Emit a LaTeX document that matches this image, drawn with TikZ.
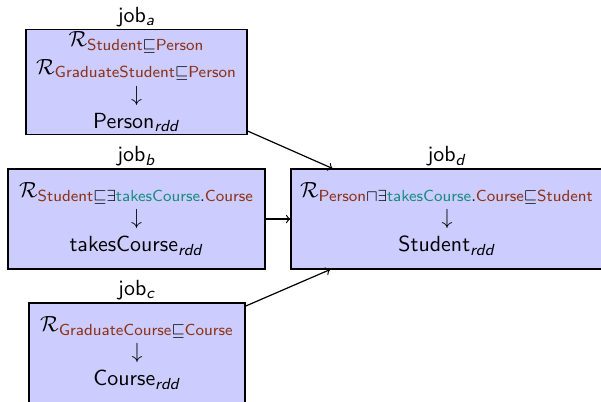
\documentclass[tikz,border=0pt,11pt]{standalone}
\usepackage{amsmath,amssymb}
\definecolor{conceptcol}{RGB}{140,50,25}
\definecolor{rolecol}{RGB}{25,140,125}
\newcommand{\cn}[1]{\textsf{\color{conceptcol}#1}}
\newcommand{\rn}[1]{\textsf{\color{rolecol}#1}}
\newcommand{\rdd}{\textsubscript{\textit{rdd}}}
\tikzset{
  jobbox/.style={draw, semithick, fill=blue!20, align=center, font=\sffamily, minimum height=1.757cm},
  joblabel/.style={font=\sffamily, inner sep=1pt}
}
\begin{document}
\begin{tikzpicture}
    \useasboundingbox (0,0) rectangle (10.561,-7.064);

    \node (joba) at (2.399,-1.441) [jobbox, minimum width=3.884cm, minimum height=1.828cm, inner ysep=1pt,
        label={[joblabel]above:job\textsubscript{\textit{a}}}]
        {$\mathcal{R}_{\cn{Student}\sqsubseteq\cn{Person}}$\\
         $\mathcal{R}_{\cn{GraduateStudent}\sqsubseteq\cn{Person}}$\\
         $\downarrow$\\ Person\rdd};
    \node (jobb) at (2.399,-3.849) [jobbox, minimum width=4.516cm,
        label={[joblabel]above:job\textsubscript{\textit{b}}}]
        {$\mathcal{R}_{\cn{Student}\sqsubseteq\exists\rn{takesCourse}.\cn{Course}}$\\
         $\downarrow$\\ takesCourse\rdd};
    \node (jobc) at (2.407,-6.203) [jobbox, minimum width=3.796cm,
        label={[joblabel]above:job\textsubscript{\textit{c}}}]
        {$\mathcal{R}_{\cn{GraduateCourse}\sqsubseteq\cn{Course}}$\\
         $\downarrow$\\ Course\rdd};
    \node (jobd) at (7.855,-3.849) [jobbox, minimum width=5.483cm,
        label={[joblabel]above:job\textsubscript{\textit{d}}}]
        {$\mathcal{R}_{\cn{Person}\sqcap\exists\rn{takesCourse}.\cn{Course}\sqsubseteq\cn{Student}}$\\
         $\downarrow$\\ Student\rdd};

    \foreach \src in {joba,jobb,jobc}
        \draw[->, semithick] (\src) -- (jobd);
\end{tikzpicture}
\end{document}
